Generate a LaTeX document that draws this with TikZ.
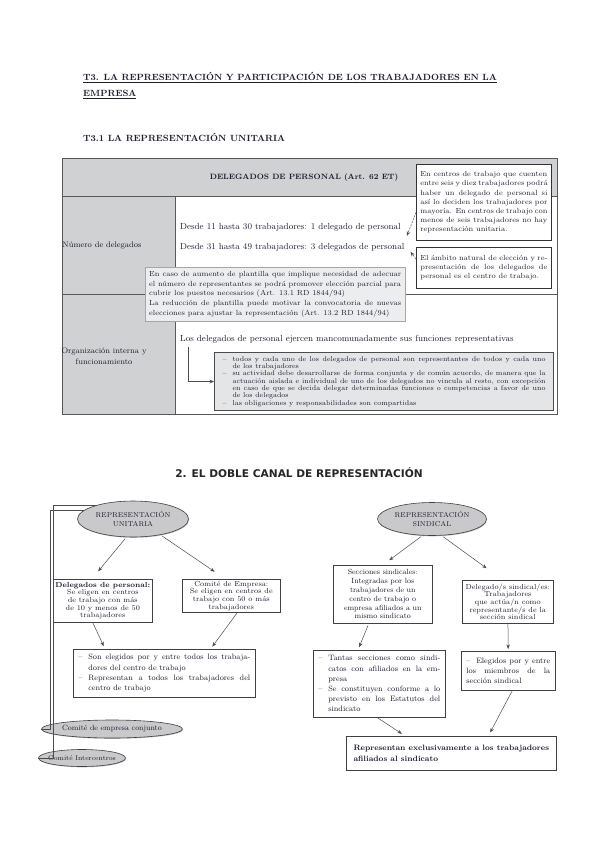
\documentclass[tikz,border=0pt]{standalone}
\usepackage{fontspec}
\newfontfamily\canalfont{DejaVu Sans}
\usetikzlibrary{shapes.geometric,arrows.meta,positioning,shadows}

\definecolor{ink}{HTML}{1E1E30}
\definecolor{cellgray}{HTML}{D0D1D3}
\definecolor{notegray}{HTML}{ECEDEE}
\definecolor{bulletgray}{HTML}{E3E5E7}
\definecolor{ovalgray}{HTML}{C9C9CB}

% justified lines of a given width, with or without a dash
\newcommand{\jline}[2]{\makebox[#1][s]{#2}}
\newcommand{\jbul}[2]{\makebox[10pt][l]{--}\makebox[\dimexpr#1-10pt\relax][s]{#2}}
\newcommand{\jcont}[2]{\hspace*{10pt}\makebox[\dimexpr#1-10pt\relax][s]{#2}}
\newcommand{\nbul}[1]{\makebox[10pt][l]{--}#1}
\newcommand{\ncont}[1]{\hspace*{10pt}#1}

\begin{document}
\begin{tikzpicture}[
    x=1pt,y=-1pt,
    every node/.style={text=ink,inner sep=1pt},
    heading/.style={font=\fontsize{9}{16}\selectfont\bfseries},
    rowlabel/.style={font=\fontsize{8}{10.5}\selectfont,align=center},
    celltext/.style={font=\fontsize{8.8}{10}\selectfont},
    tableline/.style={draw=black!65,line width=0.6pt},
    callout/.style={rectangle,draw=black!80,fill=white,line width=0.8pt,anchor=north west,
        inner xsep=4pt,align=left,font=\fontsize{7.4}{9.2}\selectfont},
    overlay/.style={rectangle,draw=black!35,fill=notegray,anchor=north west,
        inner xsep=4pt,align=left,font=\fontsize{7.4}{9.6}\selectfont},
    bulletbox/.style={rectangle,draw=black!70,fill=bulletgray,line width=1.1pt,anchor=north west,
        inner xsep=8pt,align=left,font=\fontsize{7}{7.3}\selectfont},
    oval/.style={ellipse,draw=black!75,fill=ovalgray,line width=0.6pt,inner sep=0pt,
        drop shadow={shadow xshift=0.6pt,shadow yshift=-0.8pt,fill=black!50},
        align=center,font=\fontsize{7}{9.5}\selectfont},
    card/.style={rectangle,draw=black!75,fill=white,line width=0.6pt,anchor=north west,
        drop shadow={shadow xshift=1pt,shadow yshift=-1pt,fill=black!60},
        align=center,font=\fontsize{7.3}{7.7}\selectfont},
    listcard/.style={card,align=left,inner xsep=5pt,font=\fontsize{7.8}{10.2}\selectfont},
    arrow/.style={-{Stealth[length=4.5pt,width=3.6pt]},draw=black!70,line width=0.5pt},
    callarrow/.style={arrow,dash pattern=on 2pt off 1.2pt},
    bracket/.style={draw=black!70,line width=0.6pt}
]
\useasboundingbox[fill=white] (0,0) rectangle (599,848);

% =====================
% TITLES
% =====================
\node[heading,anchor=base west] (titulo) at (82,81)
    {\underline{T3. LA REPRESENTACIÓN Y PARTICIPACIÓN DE LOS TRABAJADORES EN LA}};
\node[heading,below=16pt of titulo.base west,anchor=base west] (titulob) {\underline{EMPRESA}};
\node[heading,anchor=base west] (subtitulo) at (82,141) {T3.1 LA REPRESENTACIÓN UNITARIA};

% =====================
% TABLE
% =====================
\fill[cellgray] (62,158) rectangle (557,196);
\fill[cellgray] (62,196) rectangle (175,414);
\draw[tableline] (62,158) rectangle (557,414);
\draw[tableline] (62,196) -- (557,196);
\draw[tableline] (175,196) -- (175,414);
\draw[tableline] (62,294) -- (557,294);

\node[font=\fontsize{7.7}{9}\selectfont\bfseries] (cabecera) at (304,178) {DELEGADOS DE PERSONAL (Art. 62 ET)};

\node[rowlabel] (numdel) at (102,246) {Número de delegados};
\node[rowlabel] (orgint) at (104,356) {Organización interna y\\funcionamiento};

\node[celltext,anchor=base west] (tramo1) at (179,229)
    {Desde 11 hasta 30 trabajadores: 1 delegado de personal};
\node[celltext,below=20pt of tramo1.base west,anchor=base west] (tramo2)
    {Desde 31 hasta 49 trabajadores: 3 delegados de personal};
\node[celltext,anchor=base west] (mancom) at (179,341)
    {Los delegados de personal ejercen mancomunadamente sus funciones representativas};

\node[callout,minimum height=76pt] (seisdiez) at (416,164) {
\jline{127pt}{En centros de trabajo que cuenten}\\
\jline{127pt}{entre seis y diez trabajadores podrá}\\
\jline{127pt}{haber un delegado de personal si}\\
\jline{127pt}{así lo deciden los trabajadores por}\\
\jline{127pt}{mayoría. En centros de trabajo con}\\
\jline{127pt}{menos de seis trabajadores no hay}\\
representación unitaria.
};

\node[callout,minimum height=41pt] (ambito) at (416,247) {
\jline{127pt}{El ámbito natural de elección y re-}\\
\jline{127pt}{presentación de los delegados de}\\
personal es el centro de trabajo.
};

\node[overlay,minimum height=54pt] (plantilla) at (145,267) {
\jline{252pt}{En caso de aumento de plantilla que implique necesidad de adecuar}\\
\jline{252pt}{el número de representantes se podrá promover elección parcial para}\\
cubrir los puestos necesarios (Art. 13.1 RD 1844/94)\\
\jline{252pt}{La reducción de plantilla puede motivar la convocatoria de nuevas}\\
elecciones para ajustar la representación (Art. 13.2 RD 1844/94)
};

\node[bulletbox,minimum height=58pt] (funciones) at (214,352) {
\jbul{323pt}{todos y cada uno de los delegados de personal son representantes de todos y cada uno}\\
\ncont{de los trabajadores}\\
\jbul{323pt}{su actividad debe desarrollarse de forma conjunta y de común acuerdo, de manera que la}\\
\jcont{323pt}{actuación aislada e individual de uno de los delegados no vincula al resto, con excepción}\\
\jcont{323pt}{en caso de que se decida delegar determinadas funciones o competencias a favor de uno}\\
\ncont{de los delegados}\\
\nbul{las obligaciones y responsabilidades son compartidas}
};

\draw[callarrow] ([yshift=-10pt]seisdiez.west) -- ([xshift=5pt,yshift=-9pt]tramo1.east);
\draw[callarrow] ([yshift=-12pt]ambito.north west) -- ([xshift=5pt,yshift=-5pt]tramo2.east);
\draw[arrow,shorten <=3pt] ([xshift=9pt]mancom.south west) |- (funciones.west);

% =====================
% DOUBLE CHANNEL
% =====================
\node[font=\canalfont\fontsize{10.6}{12}\selectfont\bfseries,text=black!85] (canal) at (299,473)
    {2. EL DOBLE CANAL DE REPRESENTACIÓN};

\node[oval,minimum width=111pt,minimum height=36pt] (unitaria) at (133,519) {REPRESENTACIÓN\\UNITARIA};
\node[oval,minimum width=109pt,minimum height=33pt] (sindical) at (432,519) {REPRESENTACIÓN\\SINDICAL};

\node[card,minimum width=99pt,minimum height=43pt] (delpers) at (53,579)
    {\textbf{Delegados de personal:}\\Se eligen en centros\\de trabajo con más\\de 10 y menos de 50\\trabajadores};
\node[card,minimum width=98pt,minimum height=33pt] (comemp) at (182,579)
    {Comité de Empresa:\\Se eligen en centros de\\trabajo con 50 o más\\trabajadores};
\node[card,minimum width=99pt,minimum height=58pt,font=\fontsize{7.5}{8.8}\selectfont] (secc) at (333,565)
    {Secciones sindicales:\\Integradas por los\\trabajadores de un\\centro de trabajo o\\empresa afiliados a un\\mismo sindicato};
\node[card,minimum width=91pt,minimum height=43pt] (delsind) at (462,580)
    {Delegado/s sindical/es:\\Trabajadores\\que actúa/n como\\representante/s de la\\sección sindical};

\node[listcard,minimum height=48pt] (eleccion) at (73,649) {
\jbul{172pt}{Son elegidos por y entre todos los trabaja-}\\
\ncont{dores del centro de trabajo}\\
\jbul{172pt}{Representan a todos los trabajadores del}\\
\ncont{centro de trabajo}
};
\node[listcard,minimum height=67pt] (tantas) at (313,650) {
\jbul{122pt}{Tantas secciones como sindi-}\\
\jcont{122pt}{catos con afiliados en la em-}\\
\ncont{presa}\\
\jbul{122pt}{Se constituyen conforme a lo}\\
\jcont{122pt}{previsto en los Estatutos del}\\
\ncont{sindicato}
};
\node[listcard,minimum height=39pt] (elegidos) at (461,651) {
\jbul{84pt}{Elegidos por y entre}\\
\jline{84pt}{los miembros de la}\\
sección sindical
};

\node[card,align=left,minimum width=210pt,minimum height=34pt,inner xsep=6pt,
    font=\fontsize{7.8}{11.5}\selectfont\bfseries] (exclus) at (346,736)
    {Representan exclusivamente a los trabajadores\\afiliados al sindicato};

\node[oval,minimum width=137pt,minimum height=18pt,font=\fontsize{7.5}{9}\selectfont] (conjunto) at (112,729)
    {Comité de empresa conjunto};
\node[oval,minimum width=82pt,minimum height=17pt,inner xsep=-3pt,font=\fontsize{6.8}{8}\selectfont] (intercentros) at (82,758)
    {Comité Intercentros};

% connectors
\draw[arrow,shorten <=2pt,shorten >=10pt] (unitaria.250) -- ([xshift=-11pt]delpers.north);
\draw[arrow,shorten <=2pt,shorten >=13pt] (unitaria.330) -- ([xshift=-6pt]comemp.north);
\draw[arrow,shorten <=2pt,shorten >=8pt] (sindical.240) -- (secc.north);
\draw[arrow,shorten <=2pt,shorten >=20pt] (sindical.300) -- ([xshift=-5pt]delsind.north);

\draw[arrow,shorten >=3pt] ([xshift=-10pt]delpers.south) -- ([xshift=32pt]eleccion.north west);
\draw[arrow,shorten >=3pt] ([xshift=6pt]comemp.south) -- ([xshift=-45pt]eleccion.north east);
\draw[arrow,shorten <=2pt,shorten >=3pt] ([xshift=-14pt]secc.south) -- ([xshift=45pt]tantas.north west);
\draw[arrow,shorten >=2pt] (delsind) -- (elegidos);
\draw[arrow,shorten >=4pt] ([xshift=-2pt]tantas.south) -- ([xshift=-46pt]exclus.north);
\draw[arrow,shorten >=4pt] ([xshift=4pt]elegidos.south) -- ([xshift=37pt]exclus.north);

\draw[bracket] (unitaria.160) -- ++(-42,0) |- (intercentros.west);
\draw[bracket] (unitaria.170) -- ++(-34,0) |- (conjunto.west);

\end{tikzpicture}
\end{document}
